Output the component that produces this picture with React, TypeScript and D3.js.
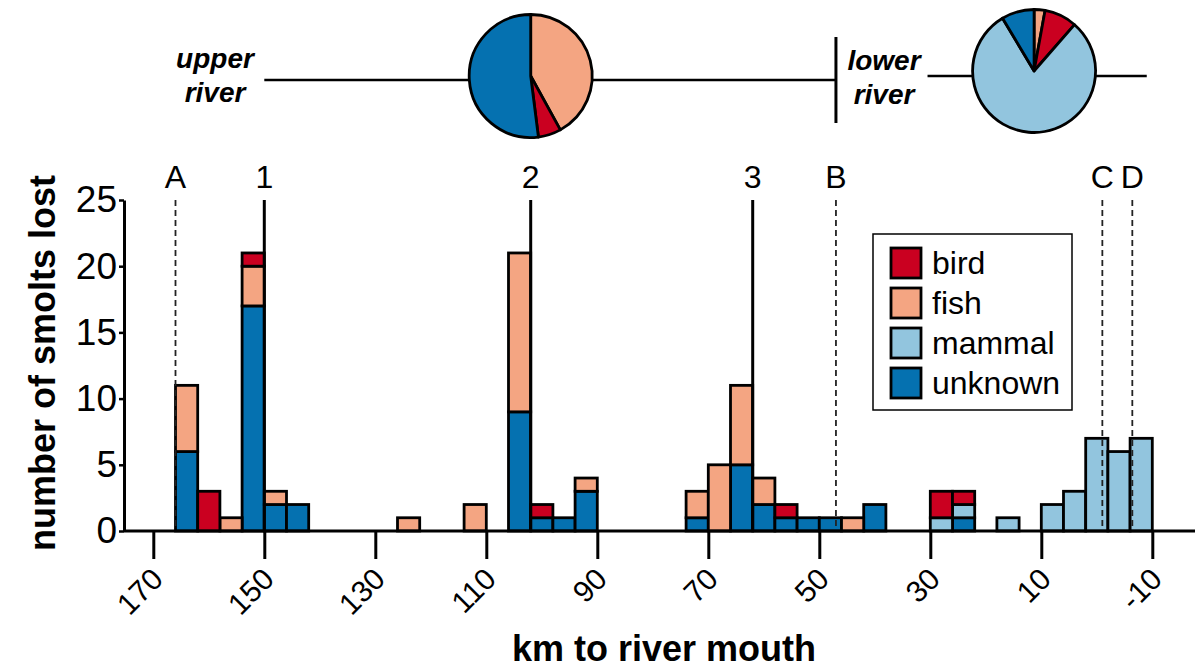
import React, { useEffect, useRef } from "react";
import * as d3 from "d3";

// bins are 4 km wide, given by their upstream edge (km to river mouth)
const binStart = [166, 162, 158, 154, 150, 146, 126, 114, 106, 102, 98, 94, 74, 70, 66, 62, 58, 54, 50, 46, 42, 30, 26, 18, 10, 6, 2, -2, -6];
const unknown = [6, 0, 0, 17, 2, 2, 0, 0, 9, 1, 1, 3, 1, 0, 5, 2, 1, 1, 1, 0, 2, 0, 1, 0, 0, 0, 0, 0, 0];
const mammal = [0, 0, 0, 0, 0, 0, 0, 0, 0, 0, 0, 0, 0, 0, 0, 0, 0, 0, 0, 0, 0, 1, 1, 1, 2, 3, 7, 6, 7];
const fish = [5, 0, 1, 3, 1, 0, 1, 2, 12, 0, 0, 1, 2, 5, 6, 2, 0, 0, 0, 1, 0, 0, 0, 0, 0, 0, 0, 0, 0];
const bird = [0, 3, 0, 1, 0, 0, 0, 0, 0, 1, 0, 0, 0, 0, 0, 0, 1, 0, 0, 0, 0, 2, 1, 0, 0, 0, 0, 0, 0];
const binWidth = 4;

const xTicks = [170, 150, 130, 110, 90, 70, 50, 30, 10, -10];
const yTicks = [0, 5, 10, 15, 20, 25];

const markerNames = ["A", "1", "2", "3", "B", "C", "D"];
const markerKm = [166, 150, 102, 62, 47, -1, -6.4];
const markerDashed = [true, false, false, false, true, true, true];

const pieKeys = ["fish", "bird", "mammal", "unknown"];
const upperPie = [42, 6, 0, 52];
const lowerPie = [1, 3, 28, 3];

const legendKeys = ["bird", "fish", "mammal", "unknown"];
const colors: Record<string, string> = {
  bird: "#CA0020",
  fish: "#F4A582",
  mammal: "#92C5DE",
  unknown: "#0571B0",
};

const FONT = "'Liberation Sans', Arial, Helvetica, sans-serif";

const App: React.FC = () => {
  const svgRef = useRef<SVGSVGElement>(null);

  useEffect(() => {
    if (!svgRef.current) return;
    document.body.style.margin = "0";
    const width = 1195;
    const height = 668;

    const svg = d3.select(svgRef.current).attr("width", width).attr("height", height);
    svg.selectAll("*").remove();
    svg.append("rect").attr("width", width).attr("height", height).attr("fill", "#fff");

    const x = d3.scaleLinear().domain([170, -10]).range([153.3, 1152.3]);
    const y = d3.scaleLinear().domain([0, 25]).range([531, 200]);

    const rows = binStart.map((s, i) => ({
      start: s,
      unknown: unknown[i],
      mammal: mammal[i],
      fish: fish[i],
      bird: bird[i],
    }));
    const stack = d3.stack<any>().keys(["unknown", "mammal", "fish", "bird"]);
    const series = stack(rows);

    // bars
    const g = svg.append("g");
    series.forEach((s) => {
      g.selectAll(null)
        .data(s.filter((d) => d[1] - d[0] > 0))
        .enter()
        .append("rect")
        .attr("x", (d) => x(d.data.start))
        .attr("width", (d) => x(d.data.start - binWidth) - x(d.data.start))
        .attr("y", (d) => y(d[1]))
        .attr("height", (d) => y(d[0]) - y(d[1]))
        .attr("fill", colors[s.key])
        .attr("stroke", "#000")
        .attr("stroke-width", 2.8);
    });

    // site markers
    markerNames.forEach((name, i) => {
      const mx = x(markerKm[i]);
      svg
        .append("line")
        .attr("x1", mx)
        .attr("x2", mx)
        .attr("y1", y(25))
        .attr("y2", y(0))
        .attr("stroke", markerDashed[i] ? "#222" : "#000")
        .attr("stroke-width", markerDashed[i] ? 1.8 : 3)
        .attr("stroke-dasharray", markerDashed[i] ? "6 4" : null);
      svg
        .append("text")
        .attr("x", mx)
        .attr("y", 188)
        .attr("text-anchor", "middle")
        .attr("font-family", FONT)
        .attr("font-size", 32)
        .text(name);
    });

    // y axis
    const yAxis = svg
      .append("g")
      .attr("transform", "translate(124,0)")
      .call(d3.axisLeft(y).tickValues(yTicks).tickSize(5).tickSizeOuter(0).tickPadding(2));
    yAxis.select(".domain").attr("stroke", "#000").attr("stroke-width", 3);
    yAxis.selectAll(".tick line").attr("stroke", "#000").attr("stroke-width", 2.5);
    yAxis
      .selectAll(".tick text")
      .attr("font-family", FONT)
      .attr("font-size", 37)
      .attr("fill", "#000");

    // x axis
    svg
      .append("line")
      .attr("x1", 124)
      .attr("x2", width)
      .attr("y1", y(0))
      .attr("y2", y(0))
      .attr("stroke", "#000")
      .attr("stroke-width", 3);
    const xAxis = svg
      .append("g")
      .attr("transform", `translate(0,${y(0)})`)
      .call(
        d3
          .axisBottom(x)
          .tickValues(xTicks)
          .tickSize(28)
          .tickSizeOuter(0)
          .tickFormat((d) => String(d))
      );
    xAxis.select(".domain").remove();
    xAxis.selectAll(".tick line").attr("stroke", "#000").attr("stroke-width", 3);
    xAxis
      .selectAll(".tick text")
      .attr("font-family", FONT)
      .attr("font-size", 30)
      .attr("fill", "#000")
      .attr("text-anchor", "end")
      .attr("dy", null)
      .attr("y", null)
      .attr("transform", "translate(11,50) rotate(-45)");

    // axis titles
    svg
      .append("text")
      .attr("x", 664)
      .attr("y", 661)
      .attr("text-anchor", "middle")
      .attr("font-family", FONT)
      .attr("font-weight", "bold")
      .attr("font-size", 36)
      .text("km to river mouth");
    svg
      .append("text")
      .attr("transform", "translate(55,363) rotate(-90)")
      .attr("text-anchor", "middle")
      .attr("font-family", FONT)
      .attr("font-weight", "bold")
      .attr("font-size", 36)
      .text("number of smolts lost");

    // legend
    const lg = svg.append("g");
    lg.append("rect")
      .attr("x", 873)
      .attr("y", 234)
      .attr("width", 199)
      .attr("height", 176)
      .attr("fill", "#fff")
      .attr("stroke", "#000")
      .attr("stroke-width", 1.5);
    legendKeys.forEach((k, i) => {
      lg.append("rect")
        .attr("x", 891)
        .attr("y", 248 + i * 40)
        .attr("width", 30)
        .attr("height", 30)
        .attr("fill", colors[k])
        .attr("stroke", "#000")
        .attr("stroke-width", 2.8);
      lg.append("text")
        .attr("x", 932)
        .attr("y", 274 + i * 40)
        .attr("font-family", FONT)
        .attr("font-size", 32)
        .text(k);
    });

    // top river schematic
    const pie = d3.pie<number>().sort(null).value((d) => d);
    const arc = d3.arc<d3.PieArcDatum<number>>().innerRadius(0).outerRadius(61.5);

    const drawPie = (vals: number[], cx: number, cy: number) => {
      const pg = svg.append("g").attr("transform", `translate(${cx},${cy})`);
      pg.selectAll("path")
        .data(pie(vals).filter((d) => d.value > 0))
        .enter()
        .append("path")
        .attr("d", arc as any)
        .attr("fill", (d) => colors[pieKeys[d.index]])
        .attr("stroke", "#000")
        .attr("stroke-width", 2.8)
        .attr("stroke-linejoin", "round");
    };

    svg
      .append("line")
      .attr("x1", x(150))
      .attr("x2", x(47))
      .attr("y1", 80)
      .attr("y2", 80)
      .attr("stroke", "#000")
      .attr("stroke-width", 2.5);
    svg
      .append("line")
      .attr("x1", x(47))
      .attr("x2", x(47))
      .attr("y1", 37)
      .attr("y2", 123)
      .attr("stroke", "#000")
      .attr("stroke-width", 3);
    svg
      .append("line")
      .attr("x1", x(30.5))
      .attr("x2", x(-9))
      .attr("y1", 76)
      .attr("y2", 76)
      .attr("stroke", "#000")
      .attr("stroke-width", 2.5);
    drawPie(upperPie, x(102), 76);
    drawPie(lowerPie, x(11.3), 71);

    const riverLabel = (l1: string, l2: string, cx: number, y1: number) => {
      [l1, l2].forEach((t, i) => {
        svg
          .append("text")
          .attr("x", cx)
          .attr("y", y1 + i * 34)
          .attr("text-anchor", "middle")
          .attr("font-family", FONT)
          .attr("font-weight", "bold")
          .attr("font-style", "italic")
          .attr("font-size", 28)
          .text(t);
      });
    };
    riverLabel("upper", "river", 215, 68);
    riverLabel("lower", "river", 884, 70);
  }, []);

  return <svg ref={svgRef}></svg>;
};

export default App;
